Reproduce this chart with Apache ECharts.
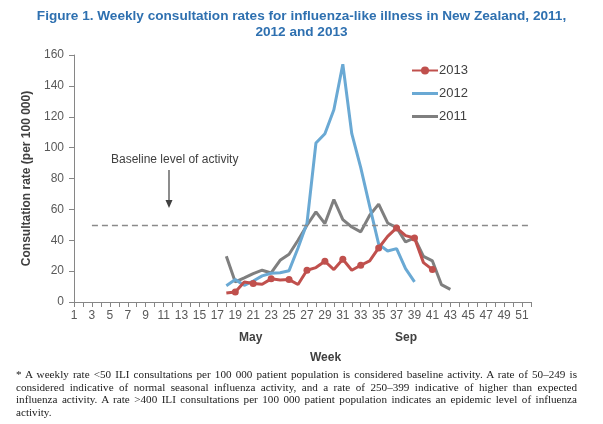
<!DOCTYPE html>
<html>
<head>
<meta charset="utf-8">
<script src="https://cdn.jsdelivr.net/npm/echarts@6/dist/echarts.min.js"></script>
<style>
html,body{margin:0;padding:0;background:#fff;}
#chart{position:absolute;left:0;top:0;width:603px;height:424px;}
#note{position:absolute;left:16px;top:368px;width:561px;font-family:"Liberation Serif","DejaVu Serif",serif;font-size:11.15px;line-height:12.7px;text-align:justify;color:#222;}
</style>
</head>
<body>
<div id="chart"></div>
<div id="note">* A weekly rate &lt;50 ILI consultations per 100 000 patient population is considered baseline activity. A rate of 50–249 is considered indicative of normal seasonal influenza activity, and a rate of 250–399 indicative of higher than expected influenza activity. A rate &gt;400 ILI consultations per 100 000 patient population indicates an epidemic level of influenza activity.</div>
<script>
var weeks = [];
for (var i = 1; i <= 52; i++) weeks.push(String(i));

var weeks2013 = [18,19,20,21,22,23,24,25,26,27,28,29,30,31,32,33,34,35,36,37,38,39,40,41];
var values2013 = [5.8,6.5,13,12,11.5,15,14.3,14.5,11.3,20.6,22.3,26.4,21,27.7,20.6,23.8,26.6,35,42.5,48,43,41.5,25.5,21];

var weeks2012 = [18,19,20,21,22,23,24,25,26,27,28,29,30,31,32,33,34,35,36,37,38,39];
var values2012 = [10.6,14.5,10.8,13.6,16.9,18.6,19,20.3,35,51,103,109,124.5,154,109,87,62,37.5,33,34.6,21.6,13];

var weeks2011 = [18,19,20,21,22,23,24,25,26,27,28,29,30,31,32,33,34,35,36,37,38,39,40,41,42,43];
var values2011 = [29.6,13,15.6,18.4,20.6,18.8,27,30.9,40,49.7,58.4,50.8,66.4,53.4,48.6,45.4,56.2,63.4,51.2,48.2,38.9,41.5,29.6,26.6,11.3,8.2];

var baselineLevel = 50;
var baselineStartWeek = '3';
var baselineEndWeek = '52';
var yTicks = [0,20,40,60,80,100,120,140,160];

function pairs(ws, vs){ return ws.map(function(w,i){ return [String(w), vs[i]]; }); }

var chart = echarts.init(document.getElementById('chart'), null, {renderer:'canvas'});
var axisColor = '#868686';
var font = 'Liberation Sans, Arial, sans-serif';
var titleStyle = {fontFamily:font, fontSize:13.6, fontWeight:'bold', color:'#2e70b0'};
var flatIcon = 'path://M0,0H26V3H0Z';
var option = {
  animation:false,
  title:[
    {text:'Figure 1. Weekly consultation rates for influenza-like illness in New Zealand, 2011,', left:'center', top:9, padding:0, textStyle:titleStyle},
    {text:'2012 and 2013', left:'center', top:25, padding:0, textStyle:titleStyle}
  ],
  legend:{
    orient:'vertical', left:411, top:64, padding:0, itemWidth:26, itemHeight:10, itemGap:10,
    data:[{name:'2013'},{name:'2012', icon:flatIcon},{name:'2011', icon:flatIcon}],
    textStyle:{fontFamily:font, fontSize:13, color:'#404040', padding:[0,0,0,-4]}
  },
  grid:{left:74, right:72, top:55, bottom:122, containLabel:false},
  xAxis:{
    type:'category', data:weeks, boundaryGap:false,
    axisLine:{lineStyle:{color:axisColor, width:1}},
    axisTick:{interval:0, length:5, inside:false, lineStyle:{color:axisColor}},
    axisLabel:{interval:1, color:'#595959', fontFamily:font, fontSize:12, margin:8},
    splitLine:{show:false}
  },
  yAxis:{
    type:'value', min:yTicks[0], max:yTicks[yTicks.length-1], interval:yTicks[1]-yTicks[0],
    name:'Consultation rate (per 100 000)', nameLocation:'middle', nameGap:36, nameRotate:90,
    nameTextStyle:{fontFamily:font, fontSize:12, fontWeight:'bold', color:'#404040'},
    axisLine:{show:true, lineStyle:{color:axisColor}},
    axisTick:{show:true, length:5, lineStyle:{color:axisColor}},
    axisLabel:{color:'#595959', fontFamily:font, fontSize:12, margin:10},
    splitLine:{show:false}
  },
  series:[
    {
      name:'2013', type:'line', data:pairs(weeks2013, values2013),
      symbol:'circle', symbolSize:7, z:5,
      lineStyle:{color:'#c0504d', width:3}, itemStyle:{color:'#c0504d'}
    },
    {
      name:'2012', type:'line', data:pairs(weeks2012, values2012),
      symbol:'none', z:4,
      lineStyle:{color:'#6aa9d4', width:3}, itemStyle:{color:'#6aa9d4'}
    },
    {
      name:'2011', type:'line', data:pairs(weeks2011, values2011),
      symbol:'none', z:3,
      lineStyle:{color:'#7f7f7f', width:3}, itemStyle:{color:'#7f7f7f'},
      markLine:{
        silent:true, symbol:['none','none'], label:{show:false},
        lineStyle:{color:'#8a8a8a', type:[6,4], width:1.3},
        data:[[{coord:[baselineStartWeek, baselineLevel]},{coord:[baselineEndWeek, baselineLevel]}]]
      }
    }
  ],
  graphic:[
    {type:'text', left:111, top:154, style:{text:'Baseline level of activity', fontFamily:font, fontSize:12, fill:'#404040'}},
    {type:'line', shape:{x1:169, y1:170, x2:169, y2:202}, style:{stroke:'#404040', lineWidth:1.2}},
    {type:'polygon', shape:{points:[[165.5,200],[172.5,200],[169,208]]}, style:{fill:'#404040'}},
    {type:'text', left:239, top:332, style:{text:'May', fontFamily:font, fontSize:12, fontWeight:'bold', fill:'#404040'}},
    {type:'text', left:395, top:332, style:{text:'Sep', fontFamily:font, fontSize:12, fontWeight:'bold', fill:'#404040'}},
    {type:'text', left:310, top:352, style:{text:'Week', fontFamily:font, fontSize:12, fontWeight:'bold', fill:'#404040'}}
  ]
};
chart.setOption(option);
</script>
</body>
</html>
